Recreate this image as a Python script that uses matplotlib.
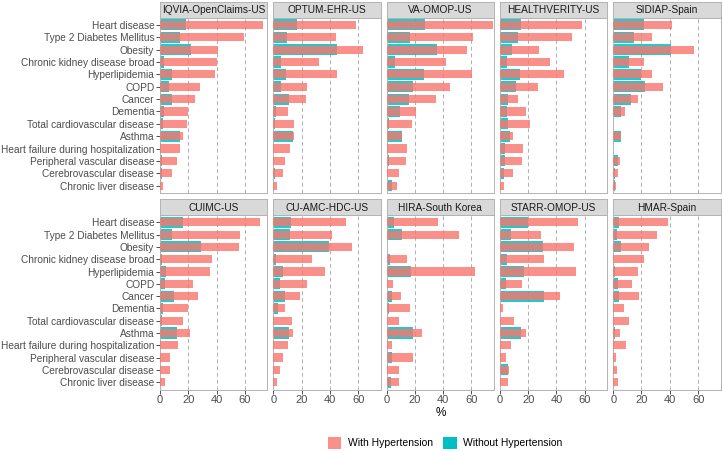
import matplotlib.pyplot as plt
from matplotlib.patches import Patch

plt.rcParams["font.family"] = ["Liberation Sans", "DejaVu Sans"]

categories = ["Heart disease", "Type 2 Diabetes Mellitus", "Obesity",
              "Chronic kidney disease broad", "Hyperlipidemia", "COPD", "Cancer",
              "Dementia", "Total cardiovascular disease", "Asthma",
              "Heart failure during hospitalization", "Peripheral vascular disease",
              "Cerebrovascular disease", "Chronic liver disease"]

# % with hypertension / without hypertension, in category order
iqvia_with = [73, 59.6, 41, 40, 39, 28, 24.6, 19.6, 19.1, 16.3, 14, 12.3, 8.7, 2.1]
iqvia_without = [18.7, 14, 21.7, 3.1, 8.3, 6.4, 8.7, 3.1, 1.9, 14, 0.9, 1.2, 1.2, 0.9]

optum_with = [58.4, 44.2, 63.5, 32.5, 45.2, 23.5, 23.3, 10.1, 14.6, 14.4, 11.5, 8.2, 6.6, 2.8]
optum_without = [16.5, 9.4, 44.7, 5.2, 9.2, 5.2, 10.8, 1.9, 1.2, 13.6, 0.5, 0.5, 1.2, 0.5]

va_with = [75, 61.2, 56.5, 41.9, 60.5, 44.9, 34.8, 20.7, 18.1, 10.8, 14.6, 13.4, 8.5, 7.5]
va_without = [26.8, 16.5, 35.5, 5.6, 26.6, 18.6, 15.5, 9.4, 1.9, 11.1, 0.7, 1.6, 0.9, 3.5]

hv_with = [57.9, 50.8, 27.3, 35.1, 45.6, 27.1, 12.9, 18.6, 21.4, 9.2, 16.2, 15.8, 9.4, 2.8]
hv_without = [15.1, 12.7, 8.5, 5.2, 14.1, 11.3, 5.6, 5.2, 5.6, 7.1, 3.8, 3.8, 2.6, 0.7]

sidiap_with = [41.6, 27.1, 57.2, 22.1, 27.1, 35.5, 17.6, 8.0, 0.2, 5.4, 0, 4.9, 3.5, 2.1]
sidiap_without = [22.1, 14.4, 41.2, 11.5, 19.5, 22.6, 12.9, 5.4, 0, 5.6, 0, 3.1, 1.6, 1.2]

cuimc_with = [70.4, 56.5, 55.6, 36.6, 35.7, 23.2, 27.2, 20.1, 16.3, 21.3, 12.5, 7.3, 7.1, 3.5]
cuimc_without = [16.1, 8.3, 28.8, 1.7, 4.0, 3.8, 9.9, 2.1, 1.2, 12.3, 0.5, 0.7, 0.7, 0.7]

cuamc_with = [51.5, 41.6, 55.5, 27.1, 36.5, 23.5, 19.1, 8.2, 12.9, 13.6, 10.4, 6.6, 4.9, 2.8]
cuamc_without = [12.7, 11.5, 39.5, 1.9, 7.1, 4.9, 8.5, 3.1, 0.5, 11.1, 0.2, 0.2, 0.2, 0.2]

hira_with = [36.5, 51.3, 0.5, 14.6, 62.8, 4.2, 10.4, 16.7, 8.5, 24.7, 3.5, 18.8, 8.7, 8.7]
hira_without = [4.9, 11.1, 0, 2.4, 16.9, 0.9, 3.5, 1.6, 0.2, 18.8, 0.2, 3.5, 0.9, 2.8]

starr_with = [55.3, 29.4, 52.2, 31.5, 53.6, 15.8, 42.6, 2.4, 10.1, 18.8, 8.0, 4.5, 6.1, 5.9]
starr_without = [20, 7.5, 30.4, 5.2, 17.2, 4.5, 31.5, 0, 0, 14.8, 0, 0.2, 5.9, 0]

hmar_with = [38.4, 31.3, 25.4, 22.1, 17.4, 13.6, 17.9, 7.3, 11.1, 4.5, 9.2, 1.9, 2.6, 3.5]
hmar_without = [3.8, 2.4, 5.6, 0.5, 1.4, 3.1, 3.8, 0.2, 0.5, 1.4, 0, 0, 0, 0]

sites = [
    ("IQVIA-OpenClaims-US", iqvia_with, iqvia_without),
    ("OPTUM-EHR-US", optum_with, optum_without),
    ("VA-OMOP-US", va_with, va_without),
    ("HEALTHVERITY-US", hv_with, hv_without),
    ("SIDIAP-Spain", sidiap_with, sidiap_without),
    ("CUIMC-US", cuimc_with, cuimc_without),
    ("CU-AMC-HDC-US", cuamc_with, cuamc_without),
    ("HIRA-South Korea", hira_with, hira_without),
    ("STARR-OMOP-US", starr_with, starr_without),
    ("HMAR-Spain", hmar_with, hmar_without),
]

RED = "#F8766D"
TEAL = "#00BFC4"
W, H = 722, 451

fig = plt.figure(figsize=(W / 100, H / 100), dpi=100)

left0, step, pw = 160, 113.3, 107.5
rows = [(17.5, 193.0), (215.0, 389.5)]
strip_h = 16
ypos = list(range(len(categories)))

for i, (name, w_vals, wo_vals) in enumerate(sites):
    r, c = divmod(i, 5)
    top, bot = rows[r]
    x0 = left0 + c * step
    ax = fig.add_axes([x0 / W, 1 - bot / H, pw / W, (bot - top) / H])
    ax.barh(ypos, wo_vals, height=0.9, color=TEAL, alpha=0.85, zorder=2)
    ax.barh(ypos, w_vals, height=0.66, color=RED, alpha=0.8, zorder=3)
    ax.set_xlim(0, 76)
    ax.set_ylim(len(categories) - 0.4, -0.6)
    for g in (20, 40, 60):
        ax.axvline(g, color="#B0B0B0", lw=0.7, ls=(0, (4, 3)), zorder=1)
    for s in ax.spines.values():
        s.set_color("#B3B3B3")
        s.set_linewidth(0.7)
    ax.set_yticks(ypos)
    ax.set_xticks([0, 20, 40, 60])
    ax.tick_params(length=2.6, width=0.6, color="#333333", labelsize=7.3,
                   labelcolor="#4D4D4D", pad=1.5)
    if c == 0:
        ax.set_yticklabels(categories)
    else:
        ax.tick_params(axis="y", left=False, labelleft=False)
    if r == 0:
        ax.tick_params(axis="x", bottom=False, labelbottom=False)
    else:
        ax.set_xticklabels(["0", "20", "40", "60"], fontsize=8)

    # facet strip
    sax = fig.add_axes([x0 / W, 1 - top / H, pw / W, strip_h / H])
    sax.set_facecolor("#D9D9D9")
    sax.set_xticks([])
    sax.set_yticks([])
    for s in sax.spines.values():
        s.set_color("#B3B3B3")
        s.set_linewidth(0.7)
    sax.text(0.5, 0.45, name, ha="center", va="center", fontsize=7.3,
             color="#1A1A1A", transform=sax.transAxes)

fig.text((left0 + 4 * step + pw + left0) / 2 / W, 1 - 413 / H, "%",
         ha="center", va="center", fontsize=8.5, color="black")

handles = [Patch(facecolor=RED, alpha=0.8, edgecolor="none", label="With Hypertension"),
           Patch(facecolor=TEAL, edgecolor="none", label="Without Hypertension")]
fig.legend(handles=handles, loc="center", bbox_to_anchor=(445 / W, 1 - 443 / H),
           ncol=2, frameon=False, fontsize=7.5, handlelength=1.3, handleheight=1.3,
           columnspacing=1.0, handletextpad=0.6)

fig.savefig("out.png", dpi=100)
